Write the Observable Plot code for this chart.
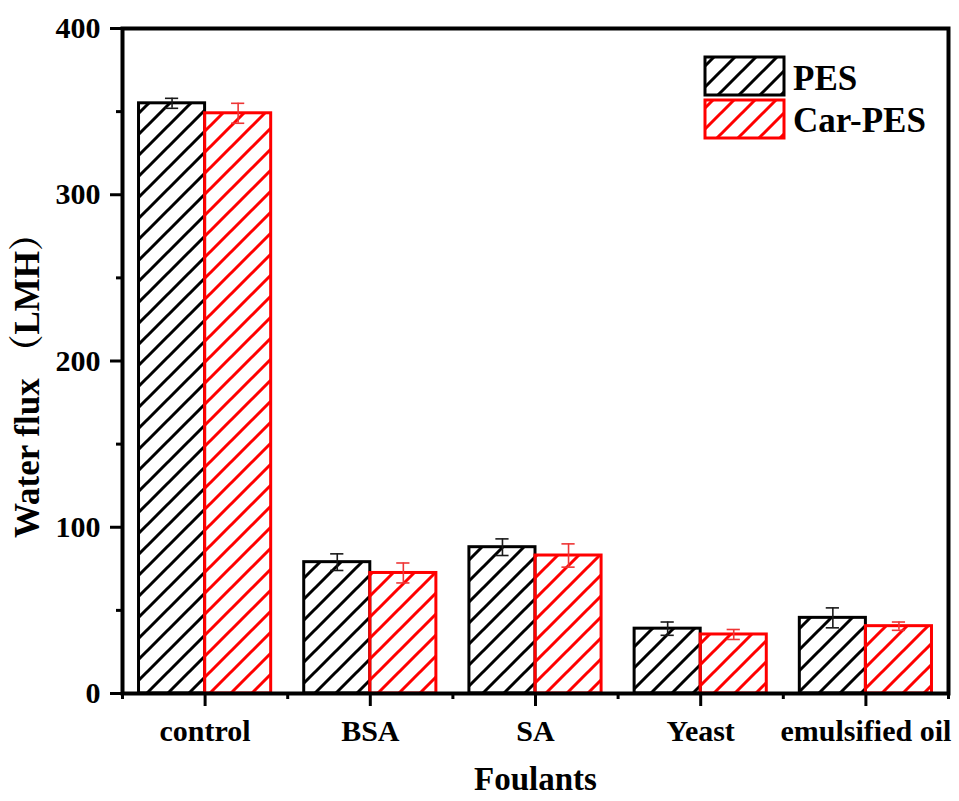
<!DOCTYPE html>
<html>
<head>
<meta charset="utf-8">
<script src="https://cdn.jsdelivr.net/npm/d3@7"></script>
<script src="https://cdn.jsdelivr.net/npm/@observablehq/plot@0.6"></script>
<style>
  body { margin: 0; background: #fff; }
  #chart { position: relative; width: 959px; height: 801px; }
  #legend { position: absolute; left: 700px; top: 50px; }
  .serif { font-family: "Liberation Serif", "Times New Roman", "Noto Serif CJK SC", "Noto Sans CJK SC", serif; font-weight: bold; }
</style>
</head>
<body>
<!-- shared hatch patterns for bars and legend swatches -->
<svg width="0" height="0" style="position:absolute">
  <defs>
    <pattern id="hatch-pes" patternUnits="userSpaceOnUse" width="21" height="21">
      <path d="M0,21 L21,0 M-5,5 L5,-5 M16,26 L26,16" stroke="#000" stroke-width="3" fill="none"/>
    </pattern>
    <pattern id="hatch-car" patternUnits="userSpaceOnUse" width="21" height="21">
      <path d="M0,21 L21,0 M-5,5 L5,-5 M16,26 L26,16" stroke="#ff0000" stroke-width="3" fill="none"/>
    </pattern>
  </defs>
</svg>
<div id="chart"></div>
<script>
// Water flux (LMH) of PES and Car-PES membranes for each foulant
const categories = ["control", "BSA", "SA", "Yeast", "emulsified oil"];
const series = ["PES", "Car-PES"];
const pesFlux = [355, 79, 88, 39, 45.5];
const pesErr = [3, 5, 5, 4, 6];
const carFlux = [349, 72.5, 83, 35.5, 40.5];
const carErr = [6, 6, 7, 3, 2.5];
const yTicks = [0, 100, 200, 300, 400];
const yMinorTicks = [50, 150, 250, 350];

const seriesStyle = {
  "PES": {fill: "url(#hatch-pes)", stroke: "#000000", err: "#1a1a1a"},
  "Car-PES": {fill: "url(#hatch-car)", stroke: "#ff0000", err: "#ee3535"}
};

// one row per bar; each category occupies one unit on x, bars take 0.4 each
const rows = categories.flatMap((cat, i) => [
  {cat, series: "PES", value: pesFlux[i], err: pesErr[i], x1: i - 0.4, x2: i, xc: i - 0.2},
  {cat, series: "Car-PES", value: carFlux[i], err: carErr[i], x1: i, x2: i + 0.4, xc: i + 0.2}
]);
const xMajor = categories.map((_, i) => i);
const xMinor = categories.map((_, i) => i - 0.5).concat(categories.length - 0.5);
const capHalf = 0.04;

const font = '"Liberation Serif", "Times New Roman", "Noto Serif CJK SC", "Noto Sans CJK SC", serif';

const marks = [];
for (const s of series) {
  const data = rows.filter(d => d.series === s);
  const st = seriesStyle[s];
  marks.push(Plot.rectY(data, {x1: "x1", x2: "x2", y1: 0, y2: "value", fill: st.fill, stroke: st.stroke, strokeWidth: 3}));
  marks.push(Plot.ruleX(data, {x: "xc", y1: d => d.value - d.err, y2: d => d.value + d.err, stroke: st.err, strokeWidth: 1.6}));
  marks.push(Plot.ruleY(data, {x1: d => d.xc - capHalf, x2: d => d.xc + capHalf, y: d => d.value + d.err, stroke: st.err, strokeWidth: 1.6}));
  marks.push(Plot.ruleY(data, {x1: d => d.xc - capHalf, x2: d => d.xc + capHalf, y: d => d.value - d.err, stroke: st.err, strokeWidth: 1.6}));
}

const chart = Plot.plot({
  width: 959,
  height: 801,
  marginLeft: 122,
  marginRight: 11,
  marginTop: 28,
  marginBottom: 108,
  style: {fontFamily: font, fontWeight: "bold", fontSize: "30px", color: "#000", background: "#fff"},
  x: {domain: [-0.5, categories.length - 0.5]},
  y: {domain: [0, 400]},
  marks: [
    ...marks,
    Plot.frame({stroke: "#000", strokeWidth: 4}),
    Plot.axisY({ticks: yTicks, tickSize: 12, tickPadding: 10, strokeWidth: 3, label: null, tickFormat: d => d}),
    Plot.axisY({ticks: yMinorTicks, tickSize: 6, strokeWidth: 3, label: null, tickFormat: () => ""}),
    Plot.axisX({ticks: xMajor, tickSize: 13, tickPadding: 13, strokeWidth: 3, label: null, tickFormat: i => categories[i]}),
    Plot.axisX({ticks: xMinor, tickSize: 6, strokeWidth: 3, label: null, tickFormat: () => ""}),
    Plot.text(["Foulants"], {text: d => d, frameAnchor: "bottom", textAnchor: "middle", dy: 96, fontSize: 33, fontWeight: "bold"}),
    Plot.text(["Water flux （LMH）"], {text: d => d, frameAnchor: "left", textAnchor: "middle", rotate: -90, dx: -95, dy: 16, fontSize: 35, fontWeight: "bold"})
  ]
});
document.getElementById("chart").appendChild(chart);

// legend inside the plot area, top right
const ns = "http://www.w3.org/2000/svg";
const legend = document.createElementNS(ns, "svg");
legend.setAttribute("id", "legend");
legend.setAttribute("width", 255);
legend.setAttribute("height", 95);
series.forEach((s, k) => {
  const st = seriesStyle[s];
  const rect = document.createElementNS(ns, "rect");
  rect.setAttribute("x", 5);
  rect.setAttribute("y", 7 + k * 43);
  rect.setAttribute("width", 79);
  rect.setAttribute("height", 38);
  rect.setAttribute("fill", st.fill);
  rect.setAttribute("stroke", st.stroke);
  rect.setAttribute("stroke-width", 3);
  legend.appendChild(rect);
  const text = document.createElementNS(ns, "text");
  text.setAttribute("x", 93);
  text.setAttribute("y", 40 + k * 42);
  text.setAttribute("class", "serif");
  text.setAttribute("font-size", 35);
  text.textContent = s;
  legend.appendChild(text);
});
document.getElementById("chart").appendChild(legend);
</script>
</body>
</html>
